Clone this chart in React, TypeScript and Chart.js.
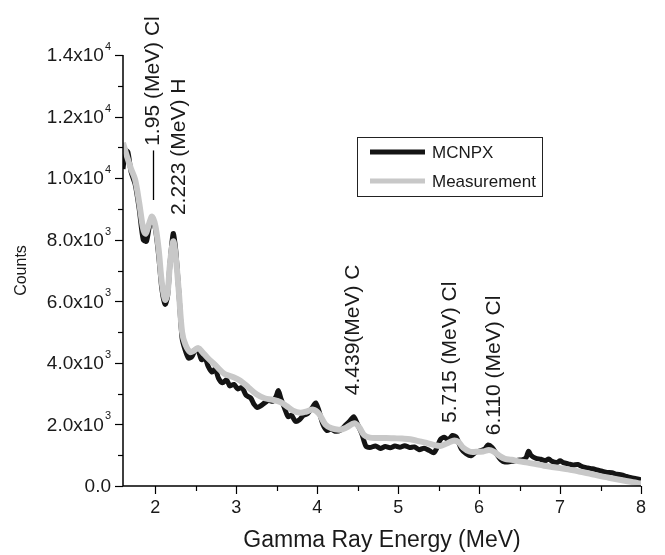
import React, { useEffect, useRef } from "react";
import { Chart, registerables } from "chart.js";

Chart.register(...registerables);

// ---- Data ----
const measEnergy = [1.6,1.65,1.7,1.75,1.8,1.85,1.88,1.92,1.96,2.0,2.04,2.08,2.12,2.15,2.18,2.22,2.25,2.29,2.33,2.37,2.43,2.48,2.53,2.58,2.65,2.75,2.85,2.95,3.05,3.15,3.25,3.35,3.45,3.55,3.62,3.7,3.79,3.87,3.95,4.02,4.1,4.18,4.28,4.36,4.46,4.52,4.58,4.65,4.75,4.85,4.95,5.05,5.15,5.25,5.35,5.45,5.52,5.6,5.68,5.74,5.8,5.88,5.96,6.05,6.12,6.18,6.25,6.32,6.4,6.5,6.6,6.7,6.8,6.9,7.0,7.1,7.2,7.3,7.4,7.5,7.6,7.7,7.8,7.9,8.0];
const measCounts = [11150,10700,10300,9950,9200,8350,8200,8500,8750,8450,7700,6600,6050,6250,7200,7950,7500,6300,5000,4600,4350,4400,4480,4350,4150,3900,3650,3550,3420,3200,2980,2850,2800,2720,2600,2450,2380,2420,2480,2350,2000,1870,1830,1900,2040,1900,1650,1570,1560,1560,1550,1540,1520,1460,1400,1330,1300,1380,1470,1440,1250,1120,1110,1120,1170,1120,980,880,850,800,760,710,660,620,580,540,490,440,380,320,270,220,170,120,80];

const simEnergy = [1.6,1.63,1.66,1.7,1.75,1.8,1.85,1.89,1.93,1.96,2.0,2.04,2.08,2.12,2.15,2.18,2.22,2.25,2.29,2.33,2.37,2.41,2.45,2.5,2.53,2.57,2.61,2.65,2.7,2.74,2.78,2.83,2.88,2.92,2.97,3.02,3.07,3.12,3.18,3.22,3.26,3.3,3.35,3.4,3.45,3.49,3.52,3.55,3.6,3.64,3.68,3.73,3.78,3.83,3.88,3.94,3.98,4.02,4.07,4.12,4.17,4.22,4.28,4.34,4.4,4.45,4.49,4.55,4.6,4.65,4.72,4.78,4.84,4.9,4.96,5.02,5.08,5.14,5.2,5.26,5.32,5.38,5.44,5.48,5.52,5.57,5.62,5.67,5.72,5.78,5.84,5.9,5.96,6.02,6.07,6.11,6.16,6.22,6.27,6.32,6.4,6.48,6.54,6.58,6.61,6.64,6.7,6.76,6.82,6.86,6.9,6.96,7.0,7.04,7.1,7.16,7.22,7.28,7.34,7.4,7.46,7.52,7.58,7.64,7.7,7.76,7.82,7.88,7.94,8.0];
const simCounts = [10300,10900,10850,10200,9800,9000,8000,7950,8500,8700,8350,7500,6400,5900,6150,7200,8200,7700,6300,4800,4400,4150,4200,4450,4400,4100,4200,3900,3700,3800,3500,3350,3450,3250,3300,3150,3200,2950,2850,2650,2550,2600,2700,2780,2750,2900,3100,2850,2500,2250,2300,2100,2150,2300,2350,2550,2700,2450,2000,1800,1850,1780,1800,1950,2100,2250,2050,1700,1300,1250,1300,1220,1280,1240,1300,1260,1310,1250,1270,1180,1230,1160,1080,1250,1500,1580,1500,1640,1580,1200,1050,980,1100,1150,1200,1330,1250,1020,850,780,800,840,860,920,1130,1000,900,870,820,880,800,760,820,760,720,680,700,620,590,560,520,480,440,430,380,360,310,270,240,200];

const seriesNames = ["MCNPX", "Measurement"];

const xTickValues = [2, 3, 4, 5, 6, 7, 8];
const xMinorValues = [1.5, 2.5, 3.5, 4.5, 5.5, 6.5, 7.5];
const yTickValues = [0, 2000, 4000, 6000, 8000, 10000, 12000, 14000];
const yTickMantissa = ["0.0", "2.0", "4.0", "6.0", "8.0", "1.0", "1.2", "1.4"];
const yTickExponent = ["", "3", "3", "3", "3", "4", "4", "4"];
const yMinorValues = [1000, 3000, 5000, 7000, 9000, 11000, 13000];

const annLabels = ["1.95 (MeV) Cl", "2.223 (MeV) H", "4.439(MeV) C", "5.715 (MeV) Cl", "6.110 (MeV) Cl"];
const annEnergy = [1.97, 2.3, 4.44, 5.64, 6.19];
const annCounts = [11050, 8800, 2950, 2050, 1650];
// marker line under the 1.95 MeV label (energy, from counts, to counts)
const markerLine = [1.97, 10900, 9290];

const xTitle = "Gamma Ray Energy (MeV)";
const yTitle = "Counts";

const FONT = '"Liberation Sans", Arial, Helvetica, sans-serif';

const overlay = {
  id: "overlay",
  afterDraw(chart: any) {
    const ctx = chart.ctx as CanvasRenderingContext2D;
    const xs = chart.scales.x;
    const ys = chart.scales.y;
    const area = chart.chartArea;
    ctx.save();
    ctx.strokeStyle = "#000";
    ctx.fillStyle = "#000";
    ctx.lineWidth = 1.5;
    // axes
    ctx.beginPath();
    ctx.moveTo(area.left, area.top);
    ctx.lineTo(area.left, area.bottom);
    ctx.lineTo(area.right, area.bottom);
    ctx.stroke();
    // ticks
    ctx.lineWidth = 1.2;
    for (const v of xTickValues) {
      const px = Math.round(xs.getPixelForValue(v)) + 0.5;
      ctx.beginPath(); ctx.moveTo(px, area.bottom); ctx.lineTo(px, area.bottom + 8); ctx.stroke();
    }
    for (const v of xMinorValues) {
      if (v < xs.min) continue;
      const px = Math.round(xs.getPixelForValue(v)) + 0.5;
      ctx.beginPath(); ctx.moveTo(px, area.bottom); ctx.lineTo(px, area.bottom + 5); ctx.stroke();
    }
    for (const v of yTickValues) {
      const py = Math.round(ys.getPixelForValue(v)) + 0.5;
      ctx.beginPath(); ctx.moveTo(area.left, py); ctx.lineTo(area.left - 8, py); ctx.stroke();
    }
    for (const v of yMinorValues) {
      const py = Math.round(ys.getPixelForValue(v)) + 0.5;
      ctx.beginPath(); ctx.moveTo(area.left, py); ctx.lineTo(area.left - 5, py); ctx.stroke();
    }
    // x labels
    ctx.font = `18px ${FONT}`;
    ctx.textAlign = "center";
    ctx.textBaseline = "top";
    ctx.fillStyle = "#1a1a1a";
    for (const v of xTickValues) {
      ctx.fillText(String(v), xs.getPixelForValue(v), area.bottom + 13);
    }
    // y labels with superscripts
    yTickValues.forEach((v, i) => {
      const py = ys.getPixelForValue(v);
      const exp = yTickExponent[i];
      const right = area.left - 12;
      ctx.textBaseline = "middle";
      ctx.textAlign = "right";
      if (exp) {
        ctx.font = `11px ${FONT}`;
        const ew = ctx.measureText(exp).width;
        ctx.fillText(exp, right, py - 8);
        ctx.font = `19px ${FONT}`;
        ctx.fillText(yTickMantissa[i] + "x10", right - ew - 1, py + 1);
      } else {
        ctx.font = `19px ${FONT}`;
        ctx.fillText(yTickMantissa[i], right, py + 1);
      }
    });
    // titles
    ctx.font = `23px ${FONT}`;
    ctx.textAlign = "center";
    ctx.textBaseline = "middle";
    ctx.fillText(xTitle, (area.left + area.right) / 2, 541);
    ctx.save();
    ctx.translate(22, (area.top + area.bottom) / 2);
    ctx.rotate(-Math.PI / 2);
    ctx.font = `16px ${FONT}`;
    ctx.fillText(yTitle, 0, 0);
    ctx.restore();
    // annotations
    annLabels.forEach((label, i) => {
      const px = xs.getPixelForValue(annEnergy[i]);
      const py = ys.getPixelForValue(annCounts[i]);
      ctx.save();
      ctx.translate(px, py);
      ctx.rotate(-Math.PI / 2);
      ctx.font = `21px ${FONT}`;
      ctx.textAlign = "left";
      ctx.textBaseline = "middle";
      ctx.fillText(label, 0, 0);
      ctx.restore();
    });
    ctx.lineWidth = 1.3;
    const mx = Math.round(xs.getPixelForValue(markerLine[0])) + 0.5;
    ctx.beginPath();
    ctx.moveTo(mx, ys.getPixelForValue(markerLine[1]));
    ctx.lineTo(mx, ys.getPixelForValue(markerLine[2]));
    ctx.stroke();
    // legend
    const lx = 357, ly = 137, lw = 185, lh = 59;
    ctx.fillStyle = "#fff";
    ctx.fillRect(lx, ly, lw, lh);
    ctx.strokeStyle = "#222";
    ctx.lineWidth = 1;
    ctx.strokeRect(lx + 0.5, ly + 0.5, lw, lh);
    const colors = ["#141414", "#c8c8c8"];
    const rows = [152, 181];
    seriesNames.forEach((name, i) => {
      ctx.strokeStyle = colors[i];
      ctx.lineWidth = 5;
      ctx.beginPath();
      ctx.moveTo(370, rows[i]);
      ctx.lineTo(425, rows[i]);
      ctx.stroke();
      ctx.fillStyle = "#1a1a1a";
      ctx.font = `17px ${FONT}`;
      ctx.textAlign = "left";
      ctx.textBaseline = "middle";
      ctx.fillText(name, 432, rows[i] + 1);
    });
    ctx.restore();
  },
};

export default function App() {
  const ref = useRef<HTMLCanvasElement | null>(null);
  useEffect(() => {
    document.body.style.margin = "0";
    const canvas = ref.current!;
    const chart = new Chart(canvas, {
      type: "line",
      data: {
        datasets: [
          {
            label: seriesNames[0],
            data: simEnergy.map((e, i) => ({ x: e, y: simCounts[i] })),
            borderColor: "#141414",
            borderWidth: 5,
            pointRadius: 0,
            tension: 0.25,
            order: 2,
          },
          {
            label: seriesNames[1],
            data: measEnergy.map((e, i) => ({ x: e, y: measCounts[i] })),
            borderColor: "#c8c8c8",
            borderWidth: 6,
            pointRadius: 0,
            tension: 0.35,
            order: 1,
          },
        ],
      },
      options: {
        responsive: false,
        animation: false,
        devicePixelRatio: 1,
        layout: { padding: { left: 123, top: 55, right: 24, bottom: 69 } },
        plugins: { legend: { display: false }, tooltip: { enabled: false } },
        scales: {
          x: { type: "linear", min: 1.6, max: 8, display: false },
          y: { type: "linear", min: 0, max: 14000, display: false },
        },
      },
      plugins: [overlay],
    });
    return () => chart.destroy();
  }, []);
  return (
    <div style={{ position: "absolute", left: 0, top: 0, width: 665, height: 555, background: "#fff" }}>
      <canvas ref={ref} width={665} height={555} />
    </div>
  );
}
